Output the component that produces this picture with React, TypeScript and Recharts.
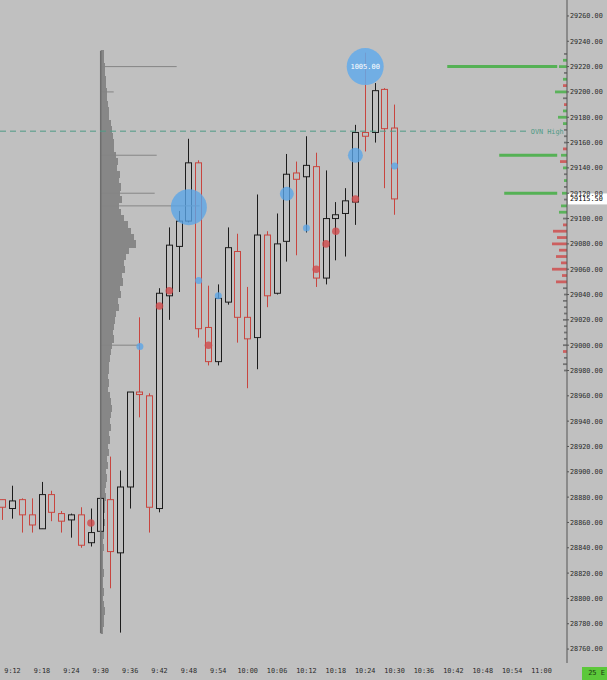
import React from 'react'
import {
  ComposedChart,
  XAxis,
  YAxis,
  ZAxis,
  Bar,
  Scatter,
  ReferenceLine,
  ReferenceArea,
} from 'recharts'

// 2-minute bars, first bar at 9:10
const startTime = '9:10'
const open = [
  28878, 28871, 28878, 28866, 28855, 28882, 28867, 28862, 28866, 28844,
  28853, 28878, 28836, 28888, 28963, 28960, 28871, 29039, 29078, 29098,
  29144, 29014, 28987, 29034, 29074, 29022, 29006, 29087, 29041, 29082,
  29136, 29133, 29141, 29053, 29100, 29104, 29113, 29168, 29168, 29202,
  29171.5,
]
const high = [
  28878, 28889, 28879, 28879, 28892, 28885, 28869, 28867, 28872, 28871,
  28953, 28912, 28901, 28963, 29022, 28962, 29045, 29093, 29106, 29163,
  29146, 29047, 29048, 29093, 29088, 29046, 29119, 29090, 29104, 29151,
  29145, 29165, 29152, 29138, 29113, 29124, 29174, 29231, 29207, 29203,
  29190,
]
const low = [
  28862, 28863, 28852, 28852, 28855, 28861, 28852, 28848, 28840, 28841,
  28829, 28808, 28773, 28871, 28943, 28852, 28868, 29020, 29042, 29097,
  29006, 28984, 28984, 29032, 29002, 28966, 28981, 29030, 29040, 29066,
  29071, 29089, 29046, 29048, 29067, 29070, 29095, 29153, 29160, 29124,
  29103,
]
const close = [
  28872, 28877, 28866, 28858, 28882, 28868, 28861, 28866, 28842, 28852,
  28879, 28837, 28888, 28963, 28961, 28872, 29041, 29079, 29098, 29144,
  29013, 28987, 29037, 29077, 29022, 29005, 29087, 29039, 29080, 29135,
  29131, 29142, 29053, 29100, 29103, 29114, 29168, 29165, 29201, 29171,
  29115.5,
]

const tickLabels = [
  '9:12', '9:18', '9:24', '9:30', '9:36', '9:42', '9:48', '9:54', '10:00', '10:06',
  '10:12', '10:18', '10:24', '10:30', '10:36', '10:42', '10:48', '10:54', '11:00',
]
const priceTicks = [
  28760, 28780, 28800, 28820, 28840, 28860, 28880, 28900, 28920, 28940, 28960,
  28980, 29000, 29020, 29040, 29060, 29080, 29100, 29120, 29140, 29160, 29180,
  29200, 29220, 29240, 29260,
]

// volume dots (bar index, price, volume)
const redBar = [9, 16, 17, 21, 32, 33, 34, 36]
const redPrice = [28859.5, 29031, 29043, 29000, 29060, 29080, 29090, 29115.5]
const redVol = [42, 42, 42, 42, 42, 42, 42, 42]
const blueBar = [14, 20, 22, 31, 40, 29, 36, 19]
const bluePrice = [28999, 29051, 29039, 29092.5, 29141.5, 29119.5, 29150, 29109]
const blueVol = [36, 36, 36, 36, 36, 144, 165, 952]
const bigBar = [37]
const bigPrice = [29220]
const bigVol = [1005]

// session volume profile, 5-point rows from 29230 down
const profileTop = 29230
const profileStep = 5
const profileVol = [
  3, 3, 4, 4, 5, 5, 6, 6, 7, 8,
  8, 10, 11, 12, 13, 13, 15, 17, 16, 19,
  18, 20, 19, 21, 18, 20, 23, 27, 30, 33,
  35, 28, 25, 23, 24, 21, 22, 19, 20, 17,
  18, 15, 14, 13, 12, 13, 11, 10, 9, 8,
  8, 7, 8, 7, 9, 10, 11, 10, 9, 10,
  8, 9, 7, 8, 6, 7, 5, 6, 5, 4,
  5, 4, 4, 3, 4, 3, 3, 2, 3, 2,
  2, 2, 3, 2, 2, 3, 2, 3, 4, 3,
  3, 2,
]
// single long prints on the profile
const profileLinePrice = [29220, 29200, 29150, 29120, 29110, 29000]
const profileLineVol = [76, 13, 56, 54, 99, 39]

// price ladder on the right edge
const ladderTop = 29230
const ladderVol = [
  3, 4, 8, 3, 4, 4, 12, 4, 3, 4,
  9, 4, 3, 3, 3, 4, 6, 7, 4, 3,
  3, 3, 5, 3, 6, 8, 4, 4, 14, 10,
  15, 8, 11, 6, 15, 5, 11, 4, 3, 4,
  3, 3, 4, 3, 3, 3, 4, 4, 3, 4,
  3,
]
const ladderSide = [
  'n', 'g', 'g', 'n', 'g', 'r', 'g', 'n', 'r', 'g',
  'g', 'g', 'n', 'n', 'n', 'r', 'g', 'r', 'g', 'n',
  'g', 'n', 'g', 'n', 'g', 'g', 'n', 'r', 'r', 'r',
  'r', 'r', 'r', 'r', 'r', 'r', 'r', 'n', 'n', 'n',
  'n', 'n', 'n', 'n', 'n', 'n', 'n', 'r', 'n', 'n',
  'n',
]
// big resting volume lines
const bigLevelPrice = [29220, 29150, 29120]
const bigLevelVol = [110, 58, 53]

const ovnHigh = 29169
const lastPrice = 29115.5

const BG = '#c0c0c0'
const UP = '#1c1c1c'
const DOWN = '#c8453f'
const TEAL = '#4f9a86'
const MONO = '"DejaVu Sans Mono", monospace'
const TEXT = '#2a2a2a'

const toMin = (s: string) => {
  const [h, m] = s.split(':').map(Number)
  return h * 60 + m
}
const toIdx = (s: string) => (toMin(s) - toMin(startTime)) / 2
const idxToTime = (v: number) => {
  const t = toMin(startTime) + v * 2
  const h = Math.floor(t / 60)
  const m = Math.round(t % 60)
  return `${h}:${m < 10 ? '0' : ''}${m}`
}

const X_MIN = -0.28
const X_MAX = 57.6
const PX_IDX = 1 / 9.8 // index units per profile volume unit
const profileBase = toIdx('9:30')

const candles = open.map((o, i) => ({
  i,
  open: o,
  high: high[i],
  low: low[i],
  close: close[i],
}))
const redDots = redBar.map((b, k) => ({ i: b, p: redPrice[k], v: redVol[k] }))
const blueDots = blueBar.map((b, k) => ({ i: b, p: bluePrice[k], v: blueVol[k] }))
const bigDots = bigBar.map((b, k) => ({ i: b, p: bigPrice[k], v: bigVol[k] }))

const Candle = (props: any) => {
  const { x, y, width, height, payload } = props
  if (x == null || y == null) return null
  const top = Math.min(y, y + height)
  const bot = Math.max(y, y + height)
  const span = payload.high - payload.low || 1
  const py = (v: number) => top + ((payload.high - v) / span) * (bot - top)
  const up = payload.close >= payload.open
  const color = up ? UP : DOWN
  const cx = Math.round(x + width / 2) + 0.5
  const yo = py(payload.open)
  const yc = py(payload.close)
  const bt = Math.min(yo, yc)
  const bh = Math.max(Math.abs(yo - yc), 1.5)
  return (
    <g>
      <line x1={cx} x2={cx} y1={top} y2={bot} stroke={color} strokeWidth={1} />
      <rect x={cx - 3} y={bt} width={6} height={bh} fill={BG} stroke={color} strokeWidth={1} />
    </g>
  )
}

const radiusOf = (p: any) => (p.width ? p.width / 2 : Math.sqrt((p.size || 40) / Math.PI))

const RedDot = (p: any) => (
  <circle cx={p.cx} cy={p.cy} r={radiusOf(p)} fill="#d0494a" fillOpacity={0.8} />
)
const BlueDot = (p: any) => (
  <circle cx={p.cx} cy={p.cy} r={radiusOf(p)} fill="#5aa5e8" fillOpacity={0.78} />
)
const BigDot = (p: any) => (
  <g>
    <circle cx={p.cx} cy={p.cy} r={radiusOf(p)} fill="#63aaea" fillOpacity={0.85} />
    <text
      x={p.cx}
      y={p.cy + 2.5}
      textAnchor="middle"
      fontFamily={MONO}
      fontSize={7}
      fill="#ffffff"
    >
      {p.payload.v.toFixed(2)}
    </text>
  </g>
)

const PriceTag = (props: any) => {
  const vb = props.viewBox
  if (!vb) return null
  const right = vb.x + vb.width
  return (
    <g>
      <rect x={right + 1} y={vb.y - 5.5} width={39} height={11} fill="#ffffff" />
      <text x={right + 3} y={vb.y + 2.5} fontFamily={MONO} fontSize={6.8} fill="#000">
        {lastPrice.toFixed(2)}
      </text>
    </g>
  )
}

const ladderColor: Record<string, string> = { g: '#55b155', r: '#cc5a5a', n: '#5a5a5a' }

export default function App() {
  return (
    <div
      style={{
        position: 'absolute',
        left: 0,
        top: 0,
        width: 607,
        height: 680,
        background: BG,
        overflow: 'hidden',
      }}
    >
      <ComposedChart
        width={607}
        height={680}
        data={candles}
        margin={{ top: 0, right: 0, bottom: 0, left: 0 }}
      >
        <XAxis
          dataKey="i"
          type="number"
          domain={[X_MIN, X_MAX]}
          allowDataOverflow
          ticks={tickLabels.map(toIdx)}
          tickFormatter={idxToTime}
          height={17}
          axisLine={false}
          tickLine={false}
          tickSize={3}
          tickMargin={2}
          interval={0}
          tick={{ fontFamily: MONO, fontSize: 6.8, fill: TEXT }}
        />
        <YAxis
          orientation="right"
          type="number"
          domain={[28749, 29272.6]}
          allowDataOverflow
          ticks={priceTicks}
          interval={0}
          tickFormatter={(v: number) => v.toFixed(2)}
          width={40}
          axisLine={{ stroke: '#555' }}
          tickLine={{ stroke: '#555' }}
          tickSize={2}
          tickMargin={1}
          tick={{ fontFamily: MONO, fontSize: 6.8, fill: TEXT }}
        />
        <ZAxis dataKey="v" type="number" domain={[0, 1005]} range={[0, 1075]} />

        {profileVol.map((v, k) => {
          const p = profileTop - k * profileStep
          return (
            <ReferenceArea
              key={`pf${k}`}
              x1={profileBase}
              x2={profileBase + v * PX_IDX}
              y1={p - profileStep / 2 - 0.4}
              y2={p + profileStep / 2 + 0.4}
              fill="#878787"
              fillOpacity={1}
              stroke="none"
              strokeWidth={0}
              shapeRendering="crispEdges"
            />
          )
        })}
        {profileLinePrice.map((p, k) => (
          <ReferenceLine
            key={`pl${k}`}
            segment={[
              { x: profileBase, y: p },
              { x: profileBase + profileLineVol[k] * PX_IDX, y: p },
            ]}
            stroke="#858585"
            strokeWidth={1}
          />
        ))}
        <ReferenceLine
          segment={[
            { x: profileBase, y: profileTop - (profileVol.length - 1) * profileStep - 2.5 },
            { x: profileBase, y: profileTop + 2.5 },
          ]}
          stroke="#6e6e6e"
          strokeWidth={1.5}
        />

        <ReferenceLine
          segment={[
            { x: X_MIN, y: ovnHigh },
            { x: 53.5, y: ovnHigh },
          ]}
          stroke={TEAL}
          strokeDasharray="6 4"
          strokeWidth={1}
          label={{
            value: 'OVN High',
            position: 'right',
            offset: 4,
            fill: TEAL,
            fontFamily: MONO,
            fontSize: 6.8,
          }}
        />

        {ladderVol.map((v, k) => {
          const p = ladderTop - k * 5
          const side = ladderSide[k]
          const h = side === 'n' ? 0.7 : 1.1
          return (
            <ReferenceArea
              key={`ld${k}`}
              x1={X_MAX - v * PX_IDX}
              x2={X_MAX}
              y1={p - h}
              y2={p + h}
              fill={ladderColor[side]}
              fillOpacity={side === 'n' ? 0.75 : 0.95}
              stroke="none"
              strokeWidth={0}
            />
          )
        })}
        {bigLevelPrice.map((p, k) => (
          <ReferenceLine
            key={`bl${k}`}
            segment={[
              { x: 56.6 - bigLevelVol[k] * PX_IDX, y: p },
              { x: 56.6, y: p },
            ]}
            stroke="#55b155"
            strokeWidth={3}
          />
        ))}

        <Bar
          dataKey={(d: any) => [d.low, d.high]}
          barSize={7}
          shape={Candle}
          isAnimationActive={false}
        />
        <Scatter data={redDots} dataKey="p" shape={RedDot} isAnimationActive={false} />
        <Scatter data={blueDots} dataKey="p" shape={BlueDot} isAnimationActive={false} />
        <Scatter data={bigDots} dataKey="p" shape={BigDot} isAnimationActive={false} />

        <ReferenceLine y={lastPrice} stroke="none" label={PriceTag} />
      </ComposedChart>
      <div
        style={{
          position: 'absolute',
          right: 0,
          bottom: 0,
          width: 25,
          height: 13,
          background: '#5cc83a',
          fontFamily: MONO,
          fontSize: 7,
          lineHeight: '13px',
          color: '#1d3a12',
          textAlign: 'right',
          paddingRight: 2,
          boxSizing: 'border-box',
        }}
      >
        25 E
      </div>
    </div>
  )
}
